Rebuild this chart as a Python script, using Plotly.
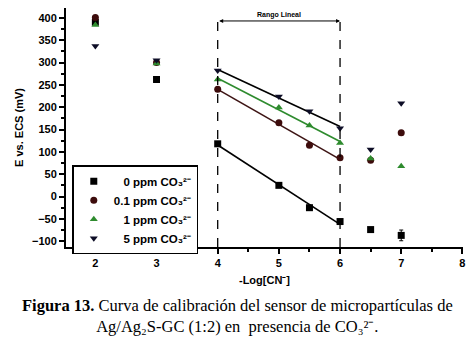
import numpy as np
import plotly.graph_objects as go

# Data
x_vals = [2, 3, 4, 5, 5.5, 6, 6.5, 7]
e_0ppm = [390, 262, 118, 25, -25, -56, -74, -87]
e_01ppm = [401, 300, 240, 165, 115, 87, 81, 143]
e_1ppm = [384, 298, 262, 199, 159, 120, 85, 68]
e_5ppm = [337, 305, 282, 224, 191, 153, 105, 209]
err_0ppm = [0, 0, 0, 0, 0, 0, 0, 12]

series_names = ["0 ppm", "0.1 ppm", "1 ppm", "5 ppm"]
linear_range = [4, 6]

colors = ["#000000", "#3d0c0c", "#2e8b2e", "#0d0d26"]
line_colors = ["#000000", "#3d1414", "#2e8b2e", "#000000"]
symbols = ["square", "circle", "triangle-up", "triangle-down"]
pads = ["\u00a0\u00a0\u00a0", "", "\u00a0\u00a0\u00a0", "\u00a0\u00a0\u00a0"]

fig = go.Figure()
all_series = [e_0ppm, e_01ppm, e_1ppm, e_5ppm]
xs = np.array(x_vals)
for i, ys in enumerate(all_series):
    ys = np.array(ys)
    mask = (xs >= linear_range[0]) & (xs <= linear_range[1])
    m, b = np.polyfit(xs[mask], ys[mask], 1)
    fx = np.array(linear_range, dtype=float)
    fig.add_trace(go.Scatter(x=fx, y=m * fx + b, mode="lines",
                             line=dict(color=line_colors[i], width=1.6),
                             showlegend=False, hoverinfo="skip"))
for i, ys in enumerate(all_series):
    tr = dict(x=x_vals, y=ys, mode="markers",
              name=pads[i] + series_names[i] + " CO\u2083\u00b2\u207b",
              marker=dict(symbol=symbols[i], color=colors[i], size=7))
    if i == 0:
        tr["error_y"] = dict(type="data", array=err_0ppm, visible=True,
                             color="#000000", thickness=1, width=2)
    fig.add_trace(go.Scatter(**tr))

y_min, y_max = -113, 422
top_y = 393
for xv in linear_range:
    fig.add_shape(type="line", x0=xv, x1=xv, y0=y_min, y1=top_y, xref="x", yref="y",
                  line=dict(color="#000000", width=1.3, dash="dash"))
fig.add_annotation(x=linear_range[1], y=top_y, ax=linear_range[0], ay=top_y,
                   xref="x", yref="y", axref="x", ayref="y", text="",
                   showarrow=True, arrowhead=2, arrowside="end+start",
                   arrowsize=0.8, arrowwidth=1, arrowcolor="#000000")
fig.add_annotation(x=sum(linear_range) / 2, y=top_y + 14, xref="x", yref="y",
                   text="<b>Rango Lineal</b>", showarrow=False,
                   font=dict(size=7, color="#000000", family="Arial"))

# page has an 8px body margin; figure coordinates = page coordinates - 8
OFF = 8
W, H = 466, 337
plot_l, plot_r, plot_t, plot_b = 65.7 - OFF, 463.3 - OFF, 0, 246.7 - OFF
ph = plot_b - plot_t
pw = plot_r - plot_l

def px_to_paper_x(px):
    return (px - OFF - plot_l) / pw

def px_to_paper_y(py):
    return (plot_b - (py - OFF)) / ph

fig.add_annotation(x=px_to_paper_x(237), y=px_to_paper_y(316), xref="paper", yref="paper",
                   text="<b>Figura 13.</b> Curva de calibración del sensor de micropartículas de"
                        "<br>Ag/Ag\u2082S-GC (1:2) en  presencia de CO\u2083\u00b2\u207b.",
                   showarrow=False, xanchor="center", yanchor="middle", align="center",
                   borderpad=0,
                   font=dict(family="Liberation Serif", size=16.5, color="#000000"))

axis_font = dict(family="Arial", size=11, color="#000000", weight="bold")
fig.update_layout(
    width=W, height=H,
    margin=dict(l=plot_l, r=W - plot_r, t=plot_t, b=H - plot_b),
    paper_bgcolor="white", plot_bgcolor="white",
    font=dict(family="Arial", color="#000000"),
    xaxis=dict(range=[1.52, 8.01], dtick=1, tick0=0, showgrid=False, zeroline=False,
               automargin=False,
               showline=True, linecolor="#000000", linewidth=2,
               ticks="outside", ticklen=5, tickwidth=1.5, tickcolor="#000000",
               tickfont=axis_font,
               minor=dict(ticks="outside", ticklen=3, dtick=0.5, tickcolor="#000000"),
               title=dict(text="-Log[CN\u207b]", font=axis_font, standoff=8)),
    yaxis=dict(range=[y_min, y_max], dtick=50, tick0=0, showgrid=False, zeroline=False,
               automargin=False,
               showline=True, linecolor="#000000", linewidth=2,
               ticks="outside", ticklen=5, tickwidth=1.5, tickcolor="#000000",
               tickfont=axis_font,
               minor=dict(ticks="outside", ticklen=3, dtick=25, tickcolor="#000000"),
               title=dict(text="E vs. ECS (mV)", font=axis_font, standoff=6)),
    legend=dict(x=px_to_paper_x(72), y=px_to_paper_y(165), xanchor="left", yanchor="top",
                bordercolor="#000000", borderwidth=1.5, bgcolor="white",
                font=dict(family="Arial", size=11.5, color="#000000", weight="bold"),
                tracegroupgap=0, itemwidth=30),
)

fig.write_html("out.html")
